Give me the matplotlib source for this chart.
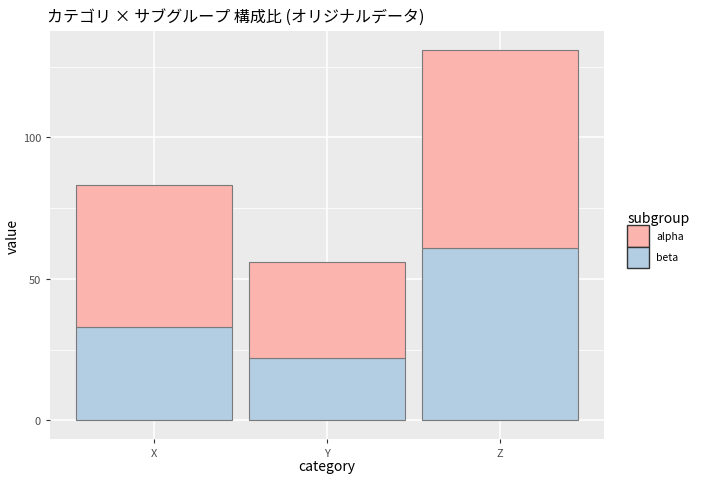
import numpy as np
import matplotlib.pyplot as plt
from matplotlib.patches import Patch

plt.rcParams['font.family'] = ['Noto Sans CJK JP', 'DejaVu Sans']

categories = ['X', 'Y', 'Z']
beta = [33, 22, 61]
alpha = [50, 34, 70]
subgroups = ['alpha', 'beta']
colors = {'alpha': '#FBB4AE', 'beta': '#B3CDE3'}

fig = plt.figure(figsize=(7.01, 4.81), dpi=100)
ax = fig.add_axes([50 / 701, 41 / 481, 554 / 701, 408 / 481])
ax.set_facecolor('#EBEBEB')

x = np.arange(1, len(categories) + 1)
ax.bar(x, beta, width=0.9, color=colors['beta'], edgecolor='#7a7a7a', linewidth=0.8, zorder=3)
ax.bar(x, alpha, width=0.9, bottom=beta, color=colors['alpha'], edgecolor='#7a7a7a', linewidth=0.8, zorder=3)

totals = np.array(beta) + np.array(alpha)
top = totals.max()
ax.set_xlim(0.4, len(categories) + 0.6)
ax.set_ylim(-top * 0.05, top * 1.05)

ax.set_xticks(x)
ax.set_xticklabels(categories)
ax.set_yticks([0, 50, 100])
ax.set_yticks([25, 75, 125], minor=True)
ax.grid(which='major', color='white', linewidth=1.1, zorder=0)
ax.grid(which='minor', axis='y', color='white', linewidth=0.55, zorder=0)
ax.set_axisbelow(True)
for s in ax.spines.values():
    s.set_visible(False)
ax.tick_params(which='major', length=3, color='#333333', labelcolor='#4d4d4d', labelsize=8)
ax.tick_params(which='minor', length=0)

ax.set_xlabel('category', fontsize=10, color='black', labelpad=1)
ax.set_ylabel('value', fontsize=10, color='black', labelpad=2)
ax.set_title('カテゴリ × サブグループ 構成比 (オリジナルデータ)', fontsize=11.5, loc='left', x=-0.005, pad=7)

handles = [Patch(facecolor=colors[g], edgecolor='#333333', linewidth=1.0) for g in subgroups]
fig.legend(handles, subgroups, title='subgroup', loc='center left', bbox_to_anchor=(620 / 701, 0.5),
           frameon=False, fontsize=7.5, title_fontsize=10, handlelength=2.1, handleheight=2.8,
           handletextpad=0.7, labelspacing=0.0, alignment='left', borderpad=0.2)

fig.savefig('out.png', dpi=100)
